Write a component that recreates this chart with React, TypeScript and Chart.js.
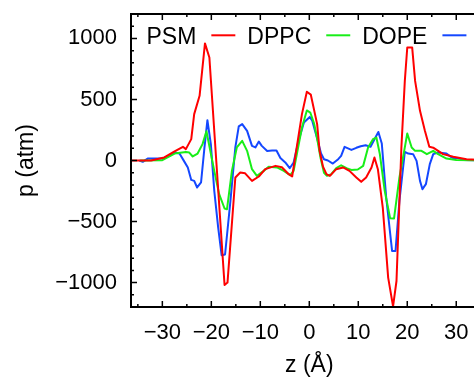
import React, { useEffect, useRef } from 'react';
import { Chart, registerables } from 'chart.js';

Chart.register(...registerables);

const FONT = '"Liberation Sans", Arial, Helvetica, sans-serif';

// z positions (Å) and pressure (atm) per membrane
const zPSM = [-36.4, -32.3, -29.6, -27.5, -25.8, -25.2, -24.1, -23.5, -22.4, -21.3, -20.4, -17.3, -16.7, -15.1, -14.1, -13.1, -11.7, -10.3, -9.0, -6.9, -5.6, -4.2, -3.5, -1.5, -0.5, 0.3, 1.6, 2.1, 2.8, 3.5, 4.2, 5.5, 6.9, 8.2, 9.6, 10.6, 11.6, 12.7, 13.3, 14.0, 15.0, 16.1, 17.1, 17.8, 18.8, 19.5, 20.0, 21.0, 21.6, 22.6, 23.6, 24.5, 25.3, 26.3, 27.3, 29.4, 32.1, 36.4];
const pPSM = [0, 0, 25, 74, 112, 93, 175, 380, 530, 959, 844, -1020, -1000, -139, -98, -105, -167, -131, -71, -44, -55, -112, -131, 380, 563, 540, 298, 80, -50, -112, -126, -71, -57, -85, -139, -175, -139, -57, 25, -71, -385, -959, -1195, -987, 107, 652, 926, 926, 652, 407, 243, 112, 105, 79, 52, 30, 11, 3];

const zDPPC = [-34.5, -30, -27.5, -25.2, -24.5, -23.8, -22.8, -21.8, -21.0, -19.4, -18.4, -17.3, -16.8, -15.8, -14.8, -13.7, -12.7, -11.7, -10.7, -9.3, -8.3, -6.6, -5.2, -3.9, -3.2, -1.5, -0.5, 0.2, 1.0, 1.6, 2.3, 3.0, 3.6, 4.4, 5.5, 6.5, 7.6, 8.6, 9.9, 11.0, 12.0, 13.0, 13.7, 14.4, 15.4, 16.5, 17.3, 18.4, 19.5, 20.0, 20.9, 21.6, 22.9, 24.0, 25.3, 26.3, 28.0, 30.0, 36.4];
const pDPPC = [0, 3, 57, 70, 65, 33, 57, 134, 240, -85, -276, -393, -399, -85, 107, 161, 79, -71, -126, -85, -52, -57, -85, -120, -85, 270, 410, 393, 300, 180, 20, -100, -125, -115, -63, -39, -63, -77, -74, -44, 107, 175, 188, 52, -249, -473, -475, -139, 107, 221, 107, 79, 79, 52, 79, 52, 16, 5, 0];

const zDOPE = [-34.7, -34.0, -33.0, -30.0, -28.6, -27.5, -26.5, -25.6, -24.8, -24.1, -23.5, -22.9, -22.1, -21.4, -20.8, -20.1, -19.4, -18.6, -17.9, -17.2, -16.1, -15.1, -14.4, -13.7, -12.7, -11.7, -11.0, -10.3, -9.7, -8.6, -7.6, -6.7, -5.9, -4.9, -4.0, -3.2, -2.2, -1.1, 0.1, 0.6, 1.6, 2.4, 3.0, 3.8, 4.8, 5.9, 6.5, 7.2, 8.6, 9.6, 10.5, 11.5, 12.5, 13.2, 14.1, 14.8, 15.7, 16.9, 17.6, 18.4, 19.5, 20.2, 21.2, 21.9, 22.6, 23.1, 23.8, 24.6, 25.3, 26.3, 28.0, 28.9, 29.4, 30.4, 31.4, 36.4];
const pDOPE = [0, -11, 16, 16, 38, 66, 57, -3, -57, -159, -167, -221, -180, 107, 330, 134, -249, -549, -776, -770, -331, 107, 280, 298, 243, 120, 107, 155, 120, 78, 82, 82, 20, -16, -63, -16, 161, 311, 357, 325, 180, 57, 10, 0, -25, 11, 38, 112, 87, 104, 117, 125, 112, 166, 234, 139, -303, -741, -741, -331, 70, 57, 52, -3, -167, -235, -194, -30, 52, 66, 57, 30, 20, 20, 5, 0];

const seriesLabels = ['PSM', 'DPPC', 'DOPE'];
const seriesColors = ['#ff0000', '#18ee18', '#1447ff'];

const xTicks = [-30, -20, -10, 0, 10, 20, 30];
const yTicks = [-1000, -500, 0, 500, 1000];
const X_MIN = -36.4, X_MAX = 36.4, Y_MIN = -1200, Y_MAX = 1200;

const fmt = (v: number) => String(v).replace('-', '\u2212');

const framePlugin = {
  id: 'gnuframe',
  afterDatasetsDraw(chart: any) {
    const { ctx, chartArea: a, scales } = chart;
    const xs = scales.x, ys = scales.y;
    ctx.save();
    ctx.strokeStyle = '#000';
    ctx.lineWidth = 1.5;
    ctx.beginPath();
    for (let v = -35; v <= 35; v += 5) {
      const px = xs.getPixelForValue(v);
      const len = v % 10 === 0 ? 6 : 3;
      ctx.moveTo(px, a.bottom); ctx.lineTo(px, a.bottom - len);
      ctx.moveTo(px, a.top); ctx.lineTo(px, a.top + len);
    }
    for (let v = -1200; v <= 1200; v += 100) {
      const py = ys.getPixelForValue(v);
      const len = v % 500 === 0 ? 6 : 3;
      ctx.moveTo(a.left, py); ctx.lineTo(a.left + len, py);
      ctx.moveTo(a.right, py); ctx.lineTo(a.right - len, py);
    }
    ctx.stroke();
    ctx.lineWidth = 2;
    ctx.strokeRect(a.left, a.top, a.right - a.left, a.bottom - a.top);

    // gnuplot-style key: text, then line sample
    ctx.font = `23px ${FONT}`;
    ctx.fillStyle = '#000';
    ctx.textAlign = 'left';
    ctx.textBaseline = 'alphabetic';
    let x = a.left + 15.5;
    const baseY = a.top + 30;
    const lineY = a.top + 21.3;
    chart.data.datasets.forEach((ds: any) => {
      ctx.fillText(ds.label, x, baseY);
      x += ctx.measureText(ds.label).width + 15;
      ctx.strokeStyle = ds.borderColor;
      ctx.lineWidth = 2;
      ctx.beginPath();
      ctx.moveTo(x, lineY);
      ctx.lineTo(x + 24, lineY);
      ctx.stroke();
      x += 24 + 12;
    });
    ctx.restore();
  },
};

export default function App() {
  const ref = useRef<HTMLCanvasElement>(null);
  useEffect(() => {
    if (!ref.current) return;
    const zs = [zPSM, zDPPC, zDOPE];
    const ps = [pPSM, pDPPC, pDOPE];
    const chart = new Chart(ref.current, {
      type: 'line',
      data: {
        datasets: seriesLabels.map((label, i) => ({
          label,
          data: zs[i].map((z, j) => ({ x: z, y: ps[i][j] })),
          borderColor: seriesColors[i],
          backgroundColor: seriesColors[i],
          borderWidth: 2,
          pointRadius: 0,
          tension: 0,
          fill: false,
          borderJoinStyle: 'round',
        })),
      },
      options: {
        animation: false,
        responsive: false,
        devicePixelRatio: 1,
        layout: { padding: { top: 14, right: 12.4, left: 0, bottom: 0 } },
        plugins: { legend: { display: false }, tooltip: { enabled: false } },
        scales: {
          x: {
            type: 'linear',
            min: X_MIN,
            max: X_MAX,
            grid: { display: false, drawTicks: false },
            border: { display: false },
            afterBuildTicks: (s: any) => { s.ticks = xTicks.map((v) => ({ value: v })); },
            afterFit: (s: any) => { s.height = 72; s.paddingLeft = 0; s.paddingRight = 0; },
            ticks: {
              color: '#000',
              font: { family: FONT, size: 22 },
              padding: 13,
              maxRotation: 0,
              autoSkip: false,
              callback: (v: any) => fmt(v),
            },
            title: {
              display: true,
              text: 'z (Å)',
              color: '#000',
              font: { family: FONT, size: 23 },
              padding: { top: 0, bottom: 0 },
            },
          },
          y: {
            type: 'linear',
            min: Y_MIN,
            max: Y_MAX,
            grid: { display: false, drawTicks: false },
            border: { display: false },
            afterBuildTicks: (s: any) => { s.ticks = yTicks.map((v) => ({ value: v })); },
            afterFit: (s: any) => { s.width = 131; s.paddingTop = 0; s.paddingBottom = 0; },
            ticks: {
              color: '#000',
              font: { family: FONT, size: 22 },
              padding: 14,
              autoSkip: false,
              callback: (v: any) => fmt(v),
            },
            title: {
              display: true,
              text: 'p (atm)',
              color: '#000',
              font: { family: FONT, size: 23 },
              padding: { top: 13, bottom: 0 },
            },
          },
        },
      },
      plugins: [framePlugin],
    });
    return () => chart.destroy();
  }, []);
  return (
    <div style={{ position: 'fixed', left: 0, top: 0, width: 474, height: 379, overflow: 'hidden', background: '#fff' }}>
      <canvas ref={ref} width={500} height={379} style={{ display: 'block', width: 500, height: 379 }} />
    </div>
  );
}
